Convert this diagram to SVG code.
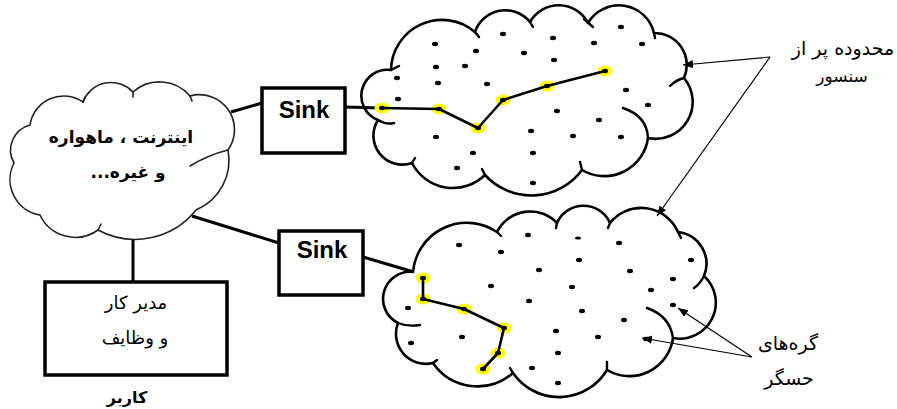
<svg xmlns="http://www.w3.org/2000/svg" width="897" height="409" viewBox="0 0 897 409">
<defs>
<style>
.cloud{fill:#fff;stroke:#000;stroke-width:2.6;stroke-linejoin:round}
.icloud{fill:#fff;stroke:#222;stroke-width:1.6}
.tick{fill:none;stroke:#000;stroke-width:2.4;stroke-linecap:round}
.itick{fill:none;stroke:#222;stroke-width:1.6;stroke-linecap:round}
.box{fill:#fff;stroke:#000;stroke-width:3.5}
.link{fill:none;stroke:#000;stroke-width:3}
.chain{fill:none;stroke:#000;stroke-width:2.6;stroke-linejoin:round}
.ptr{fill:none;stroke:#000;stroke-width:1.2;marker-end:url(#ah)}
.hl{fill:#ffff00}
.dot{fill:#000}
.sink{font-family:"Liberation Sans",Arial,sans-serif;font-weight:bold;font-size:24px;text-anchor:middle;fill:#000}
.fa{font-family:"DejaVu Sans",sans-serif;text-anchor:middle;fill:#000;direction:rtl}
</style>
<marker id="ah" viewBox="0 0 10 10" refX="10" refY="5" markerWidth="10" markerHeight="10" markerUnits="userSpaceOnUse" orient="auto">
<path d="M0,1 L10,5 L0,9 Z" fill="#000"/>
</marker>
</defs>
<rect width="897" height="409" fill="#fff"/>

<g id="connectors">
<line class="link" x1="231" y1="112" x2="262" y2="103"/>
<line class="link" x1="192" y1="216" x2="279" y2="243"/>
<line class="link" x1="133" y1="238" x2="133" y2="282"/>
<line class="link" x1="345" y1="107" x2="382" y2="108"/>
<line class="link" x1="363" y1="257" x2="414" y2="272"/>
</g>

<g id="internet-cloud">
<path class="icloud" d="M30,125 A34,34 0 0 1 83,102 A30,30 0 0 1 133,92 A40,40 0 0 1 190,96 A35,35 0 0 1 228,150 A54,54 0 0 1 196,210 A78,78 0 0 1 98,230 A39,39 0 0 1 40,215 A36,36 0 0 1 14,163 A26,26 0 0 1 30,125 Z"/>
<path class="itick" d="M228,150 Q208,155 190,166 M83,102 L85,97 M133,92 L133,97 M190,96 L192,101 M98,230 L101,224"/>
<text class="fa" x="121" y="143" font-size="17" font-weight="bold">اینترنت ، ماهواره</text>
<text class="fa" x="128" y="178" font-size="17" font-weight="bold">و  غیره...&#x200F;</text>
</g>

<g id="sink1">
<rect class="box" x="262" y="88" width="83" height="65"/>
<text class="sink" x="304" y="118">Sink</text>
</g>

<g id="sink2">
<rect class="box" x="279" y="231" width="84" height="64"/>
<text class="sink" x="322" y="258">Sink</text>
</g>

<g id="manager">
<rect class="box" x="45" y="282" width="182" height="93" stroke-width="4"/>
<text class="fa" x="136" y="309" font-size="18">مدیر کار</text>
<text class="fa" x="135" y="344" font-size="18">و وظایف</text>
<text class="fa" x="127" y="403" font-size="16" font-weight="bold">کاربر</text>
</g>

<g id="sensor-field-top">
<path class="cloud" d="M378,120 A26,26 0 0 1 391,70 A51,51 0 0 1 475,32 A32,32 0 0 1 530,22 A33,33 0 0 1 588,23 A36,36 0 0 1 654,33 A32,32 0 0 1 684,78 A37,37 0 0 1 648,138 A44,44 0 0 1 582,170 A63,63 0 0 1 485,175 A46,46 0 0 1 412,163 A29,29 0 0 1 378,120 Z"/>
<path class="tick" d="M378,120 Q386,125 394,123 M391,70 L399,66 M475,32 L479,37 M530,22 L533,27 M584,19 L593,27 M654,33 L655,38 M684,78 Q676,80 670,86 M648,138 Q647,116 623,108 M582,170 L580,162 M485,175 L482,169 M412,163 L415,158"/>
<line class="link" x1="360" y1="107.5" x2="382" y2="108"/>
<g class="hl">
<ellipse cx="382" cy="108" rx="7.5" ry="5.5"/><ellipse cx="439" cy="109" rx="7.5" ry="5.5"/><ellipse cx="478" cy="128" rx="7.5" ry="5.5"/><ellipse cx="503" cy="100" rx="7.5" ry="5.5"/><ellipse cx="547" cy="86" rx="7.5" ry="5.5"/><ellipse cx="605" cy="71" rx="7.5" ry="5.5"/>
</g>
<polyline class="chain" points="382,108 439,109 478,128 503,100 547,86 605,71"/>
<g class="dot">
<ellipse cx="382" cy="108" rx="3" ry="2.2"/><ellipse cx="439" cy="109" rx="3" ry="2.2"/><ellipse cx="478" cy="128" rx="3" ry="2.2"/><ellipse cx="503" cy="100" rx="3" ry="2.2"/><ellipse cx="547" cy="86" rx="3" ry="2.2"/><ellipse cx="605" cy="71" rx="3" ry="2.2"/>
<ellipse cx="435" cy="44" rx="3" ry="2.2"/><ellipse cx="476" cy="51" rx="3" ry="2.2"/><ellipse cx="503" cy="34" rx="3" ry="2.2"/><ellipse cx="524" cy="53" rx="3" ry="2.2"/><ellipse cx="436" cy="67" rx="3" ry="2.2"/><ellipse cx="465" cy="66" rx="3" ry="2.2"/><ellipse cx="397" cy="78" rx="3" ry="2.2"/><ellipse cx="438" cy="83" rx="3" ry="2.2"/><ellipse cx="487" cy="84" rx="3" ry="2.2"/><ellipse cx="398" cy="99" rx="3" ry="2.2"/><ellipse cx="436" cy="137" rx="3" ry="2.2"/><ellipse cx="473" cy="153" rx="3" ry="2.2"/><ellipse cx="457" cy="168" rx="3" ry="2.2"/><ellipse cx="553" cy="38" rx="3" ry="2.2"/><ellipse cx="594" cy="43" rx="3" ry="2.2"/><ellipse cx="621" cy="27" rx="3" ry="2.2"/><ellipse cx="642" cy="44" rx="3" ry="2.2"/><ellipse cx="554" cy="60" rx="3" ry="2.2"/><ellipse cx="626" cy="90" rx="3" ry="2.2"/><ellipse cx="648" cy="105" rx="3" ry="2.2"/><ellipse cx="557" cy="111" rx="3" ry="2.2"/><ellipse cx="599" cy="120" rx="3" ry="2.2"/><ellipse cx="531" cy="131" rx="3" ry="2.2"/><ellipse cx="573" cy="136" rx="3" ry="2.2"/><ellipse cx="621" cy="137" rx="3" ry="2.2"/><ellipse cx="533" cy="153" rx="3" ry="2.2"/><ellipse cx="533" cy="183" rx="3" ry="2.2"/>
</g>
</g>

<g id="sensor-field-bottom">
<path class="cloud" d="M413,272 A54,54 0 0 1 497,232 A37,37 0 0 1 557,223 A29,29 0 0 1 610,223 A40,40 0 0 1 678,232 A32,32 0 0 1 704,276 A36,36 0 0 1 673,338 A44,44 0 0 1 607,370 A56,56 0 0 1 513,373 A54,54 0 0 1 433,363 A30,30 0 0 1 398,323 A27,27 0 0 1 413,272 Z"/>
<path class="tick" d="M497,232 L501,236 M557,223 L556,228 M610,223 L608,228 M678,232 L681,238 M704,276 Q700,284 694,288 M673,338 Q670,316 647,308 M607,370 L607,362 M513,373 L510,368 M433,363 L437,360 M398,323 Q408,327 420,325"/>
<g class="hl">
<ellipse cx="423" cy="278" rx="7.5" ry="5.5"/><ellipse cx="423" cy="299" rx="7.5" ry="5.5"/><ellipse cx="464" cy="309" rx="7.5" ry="5.5"/><ellipse cx="504" cy="328" rx="7.5" ry="5.5"/><ellipse cx="498" cy="353" rx="7.5" ry="5.5"/><ellipse cx="483" cy="369" rx="7.5" ry="5.5"/>
</g>
<polyline class="chain" points="423,278 423,299 464,309 504,328 498,353 483,369"/>
<g class="dot">
<ellipse cx="423" cy="278" rx="3" ry="2.2"/><ellipse cx="423" cy="299" rx="3" ry="2.2"/><ellipse cx="464" cy="309" rx="3" ry="2.2"/><ellipse cx="504" cy="328" rx="3" ry="2.2"/><ellipse cx="498" cy="353" rx="3" ry="2.2"/><ellipse cx="483" cy="369" rx="3" ry="2.2"/>
<ellipse cx="459" cy="245" rx="3" ry="2.2"/><ellipse cx="501" cy="252" rx="3" ry="2.2"/><ellipse cx="528" cy="235" rx="3" ry="2.2"/><ellipse cx="539" cy="270" rx="3" ry="2.2"/><ellipse cx="491" cy="286" rx="3" ry="2.2"/><ellipse cx="529" cy="301" rx="3" ry="2.2"/><ellipse cx="408" cy="308" rx="3" ry="2.2"/><ellipse cx="462" cy="337" rx="3" ry="2.2"/><ellipse cx="411" cy="343" rx="3" ry="2.2"/><ellipse cx="532" cy="368" rx="3" ry="2.2"/><ellipse cx="578" cy="238" rx="3" ry="1.6"/><ellipse cx="619" cy="243" rx="3" ry="2.2"/><ellipse cx="579" cy="260" rx="3" ry="2.2"/><ellipse cx="630" cy="271" rx="3" ry="2.2"/><ellipse cx="691" cy="260" rx="3" ry="2.2"/><ellipse cx="673" cy="279" rx="3" ry="2.2"/><ellipse cx="572" cy="287" rx="3" ry="2.2"/><ellipse cx="651" cy="290" rx="3" ry="2.2"/><ellipse cx="673" cy="305" rx="3" ry="2.2"/><ellipse cx="582" cy="311" rx="3" ry="2.2"/><ellipse cx="624" cy="320" rx="3" ry="2.2"/><ellipse cx="556" cy="331" rx="3" ry="2.2"/><ellipse cx="598" cy="337" rx="3" ry="2.2"/><ellipse cx="646" cy="339" rx="3" ry="2.2"/><ellipse cx="558" cy="353" rx="3" ry="2.2"/><ellipse cx="558" cy="383" rx="3" ry="2.2"/>
</g>
</g>

<g id="pointers">
<path class="ptr" d="M770,57 L683,65"/>
<path class="ptr" d="M770,57 L657,216"/>
<path class="ptr" d="M752,357 L678,308"/>
<path class="ptr" d="M752,357 L642,338"/>
</g>

<g id="label-field">
<text class="fa" x="843" y="55" font-size="19">محدوده پر از</text>
<text class="fa" x="842" y="82" font-size="17">سنسور</text>
</g>

<g id="label-nodes">
<text class="fa" x="788" y="350" font-size="19">گره‌های</text>
<text class="fa" x="789" y="385" font-size="19">حسگر</text>
</g>
</svg>
